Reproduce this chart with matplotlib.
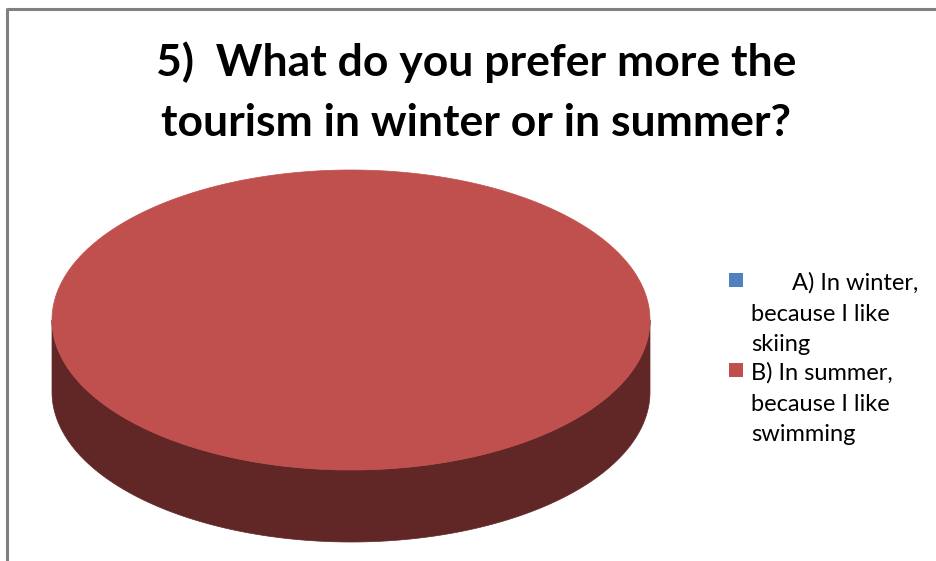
import numpy as np
import matplotlib
matplotlib.use("Agg")
import matplotlib.pyplot as plt
from matplotlib.patches import Polygon, Rectangle

# Survey answers (percent of respondents)
categories = ["A) In winter, because I like skiing",
              "B) In summer, because I like swimming"]
values = [0, 100]
colors_top = ["#4F81BD", "#C0504D"]
colors_side = ["#2A4565", "#612727"]
legend_lines = [["A) In winter,", "because I like", "skiing"],
                ["B) In summer,", "because I like", "swimming"]]
title = "5)  What do you prefer more the\ntourism in winter or in summer?"

W, H = 936, 561
fig = plt.figure(figsize=(W / 100, H / 100), dpi=100)
ax = fig.add_axes([0, 0, 1, 1])
ax.set_xlim(0, W)
ax.set_ylim(H, 0)
ax.axis("off")

# outer frame of the chart area
ax.plot([7, 7, W + 5], [H + 5, 8.5, 8.5], color="#808080", lw=2.2,
        solid_capstyle="butt", clip_on=False)

# 3D pie geometry (pixels)
cx, cy, rx, ry, depth = 351, 320, 299, 150, 72


def pt(t, dy=0.0):
    return cx + rx * np.cos(t), cy - ry * np.sin(t) + dy


total = float(sum(values))
start = np.pi / 2
for val, ctop, cside in zip(values, colors_top, colors_side):
    if val <= 0:
        continue
    sweep = 2 * np.pi * val / total
    ts = np.linspace(start, start - sweep, 721)
    # side wall: only the part facing the viewer
    front = np.sin(ts) <= 0
    if front.any():
        idx = np.where(front)[0]
        runs = np.split(idx, np.where(np.diff(idx) != 1)[0] + 1)
        for run in runs:
            tr = ts[run]
            xs, ys = pt(tr)
            xb, yb = pt(tr[::-1], depth)
            poly = np.column_stack([np.concatenate([xs, xb]),
                                    np.concatenate([ys, yb])])
            ax.add_patch(Polygon(poly, closed=True, facecolor=cside,
                                 edgecolor=cside, lw=0.5))
    # top face
    xs, ys = pt(ts)
    if sweep < 2 * np.pi - 1e-9:
        xs = np.concatenate([[cx], xs])
        ys = np.concatenate([[cy], ys])
    ax.add_patch(Polygon(np.column_stack([xs, ys]), closed=True,
                         facecolor=ctop, edgecolor=ctop, lw=0.5, zorder=3))
    start -= sweep

# title
ax.text(476, 92, title, ha="center", va="center", fontsize=32,
        fontweight="bold", family="Lato", linespacing=1.6, color="#000000")

# legend
sq = 14
entry_y = [273, 363]
first_indent = [41, 0]
for lines, color, y0, ind in zip(legend_lines, colors_top, entry_y,
                                 first_indent):
    ax.add_patch(Rectangle((729, y0), sq, sq, facecolor=color,
                           edgecolor="none"))
    for i, line in enumerate(lines):
        ax.text(751 + (ind if i == 0 else 0), y0 + 17 + i * 30.5, line,
                ha="left", va="baseline", fontsize=17, family="Lato",
                color="#000000")

fig.savefig("out.png", dpi=100)
